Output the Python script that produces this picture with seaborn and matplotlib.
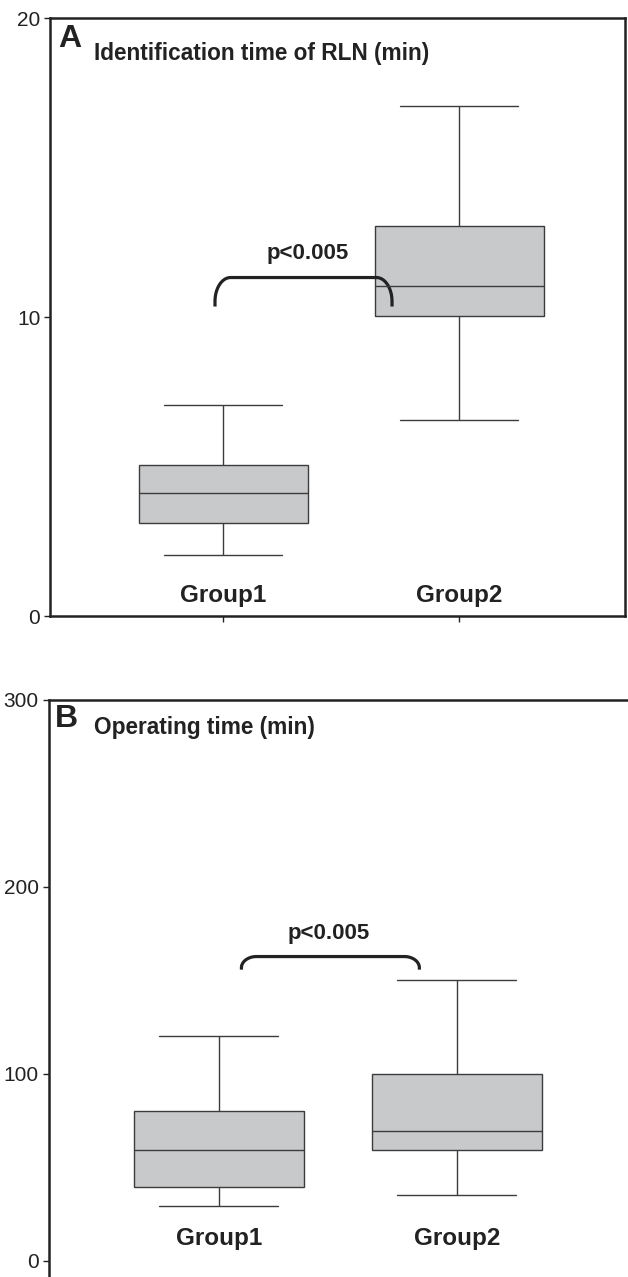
import numpy as np
import pandas as pd
import seaborn as sns
import matplotlib.pyplot as plt

# five-number summaries: low whisker, Q1, median, Q3, high whisker
groups = ["Group1", "Group2"]
rln_group1 = [2.05, 3.1, 4.1, 5.05, 7.05]
rln_group2 = [6.55, 10.05, 11.05, 13.05, 17.05]
op_group1 = [29.5, 39.5, 59.5, 80, 120]
op_group2 = [35, 59.5, 69.5, 100, 150]

rln_ticks = [0, 10, 20]
op_ticks = [0, 100, 200, 300]
p_text = "p<0.005"

sns.set_style("white")
plt.rcParams['font.family'] = ['Liberation Sans', 'DejaVu Sans']

BOX_FILL = "#c8c9cb"
LINE = "#3c3c3c"
DARK = "#222222"


def long_df(a, b):
    return pd.DataFrame({"group": [groups[0]] * len(a) + [groups[1]] * len(b),
                         "value": a + b})


def draw_box(ax, df):
    sns.boxplot(data=df, x="group", y="value", whis=(0, 100), width=0.716,
                color=BOX_FILL, linecolor=LINE, linewidth=1.0, saturation=1,
                capwidths=0.5, ax=ax)
    ax.set_xlabel("")
    ax.set_ylabel("")
    ax.set_xticklabels([])
    for patch in ax.patches:
        patch.set_facecolor(BOX_FILL)


def bracket(ax, x0, x1, y_low, y_top, rx, ry):
    # rounded bracket joining the two groups
    t = np.linspace(0, np.pi / 2, 25)
    lx = (x0 + rx) - rx * np.cos(t)
    ly = (y_top - ry) + ry * np.sin(t)
    rxs = (x1 - rx) + rx * np.sin(t)
    rys = (y_top - ry) + ry * np.cos(t)
    xs = np.concatenate([[x0], lx, rxs, [x1]])
    ys = np.concatenate([[y_low], ly, rys, [y_low]])
    ax.plot(xs, ys, color=DARK, lw=2.3, solid_capstyle="butt", clip_on=False)


fig = plt.figure(figsize=(6.28, 12.77), dpi=100)
W, H = 628, 1277

# ---- panel A ----
axA = fig.add_axes([50 / W, 1 - 616 / H, 575 / W, 598 / H])
draw_box(axA, long_df(rln_group1, rln_group2))
axA.set_ylim(0, 20)
axA.set_xlim(-0.733, 1.703)
axA.set_yticks(rln_ticks)
axA.set_xticks([0, 1])
for s in axA.spines.values():
    s.set_visible(True)
    s.set_linewidth(1.8)
    s.set_color(DARK)
axA.tick_params(axis="y", left=True, direction="out", length=4, width=1,
                labelsize=15, colors=DARK, pad=3)
axA.tick_params(axis="x", bottom=True, direction="out", length=4, width=1,
                colors=DARK)
for i, g in enumerate(groups):
    axA.text(i, 0.68, g, ha="center", va="center", fontsize=17.5,
             fontweight="bold", color=DARK)
axA.text(0.015, 0.965, "A", transform=axA.transAxes, ha="left", va="center",
         fontsize=23, fontweight="bold", color=DARK)
axA.text(0.0765, 0.94, "Identification time of RLN (min)", transform=axA.transAxes,
         ha="left", va="center", fontsize=16.3, fontweight="bold", color=DARK)
bracket(axA, -0.034, 0.716, 10.35, 11.32, 0.066, 0.8)
axA.text(0.36, 12.14, p_text, ha="center", va="center", fontsize=16,
         fontweight="bold", color=DARK)

# ---- panel B ----
axB = fig.add_axes([48.5 / W, 0, (W - 48.5) / W, 577.3 / H])
draw_box(axB, long_df(op_group1, op_group2))
axB.set_ylim(-8.6, 300)
axB.set_xlim(-0.716, 1.72)
axB.set_yticks(op_ticks)
axB.set_xticks([])
axB.spines["right"].set_visible(False)
axB.spines["bottom"].set_visible(False)
for side in ["left", "top"]:
    axB.spines[side].set_visible(True)
    axB.spines[side].set_linewidth(1.8)
    axB.spines[side].set_color(DARK)
axB.tick_params(axis="y", left=True, direction="out", length=4, width=1,
                labelsize=15, colors=DARK, pad=3)
for i, g in enumerate(groups):
    axB.text(i, 11.9, g, ha="center", va="center", fontsize=17.5,
             fontweight="bold", color=DARK)
axB.text(0.011, 0.967, "B", transform=axB.transAxes, ha="left", va="center",
         fontsize=23, fontweight="bold", color=DARK)
axB.text(0.0785, 0.951, "Operating time (min)", transform=axB.transAxes,
         ha="left", va="center", fontsize=16.3, fontweight="bold", color=DARK)
bracket(axB, 0.095, 0.843, 155.7, 162.7, 0.063, 6)
axB.text(0.46, 175, p_text, ha="center", va="center", fontsize=16,
         fontweight="bold", color=DARK)

fig.savefig("out.png", dpi=100)
